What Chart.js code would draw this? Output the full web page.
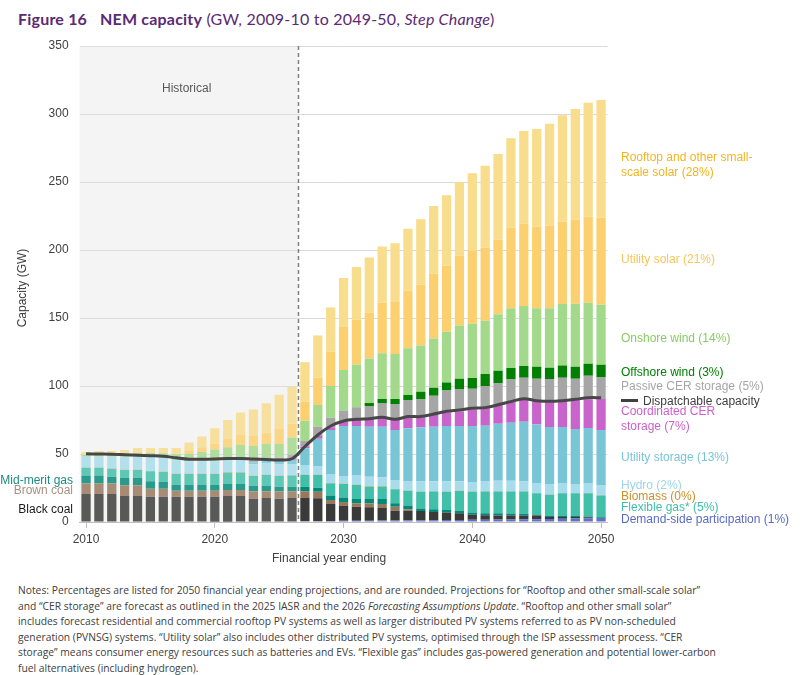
<!DOCTYPE html>
<html><head><meta charset="utf-8">
<script src="https://cdn.jsdelivr.net/npm/chart.js@4.4.1/dist/chart.umd.min.js"></script>
<style>
body{margin:0;background:#fff;width:802px;height:675px;overflow:hidden;position:relative;font-family:'Liberation Sans',Arial,sans-serif;}
#wrap{position:absolute;left:0;top:0;width:802px;height:580px;}
canvas{display:block;}
.t{position:absolute;white-space:nowrap;font-size:12px;line-height:14px;transform:translateY(-50%);}
.r{text-align:right;}
#title{position:absolute;left:18px;top:9px;font-family:'Lato',sans-serif;font-size:16px;letter-spacing:0.2px;color:#5b2a73;white-space:nowrap;}
#title b{font-weight:700;}
#notes{position:absolute;left:18px;top:583px;font-family:'Open Sans',sans-serif;font-size:10.3px;line-height:15.6px;color:#404040;white-space:nowrap;}
#ytitle{position:absolute;left:-28px;top:281px;width:100px;height:14px;line-height:14px;font-size:12px;color:#404040;text-align:center;white-space:nowrap;transform:rotate(-90deg);}
</style></head>
<body>
<div id="title"><b>Figure 16</b>&nbsp;&nbsp;&nbsp;<b>NEM capacity</b> (GW, 2009-10 to 2049-50, <i>Step Change</i>)</div>
<div id="wrap"><canvas id="c" width="802" height="580"></canvas></div>

<div class="t" style="left:162px;top:88px;color:#595959;">Historical</div>
<div id="ytitle">Capacity (GW)</div>
<div class="t" style="left:272px;top:558px;color:#404040;">Financial year ending</div>

<div class="t r" style="right:729px;top:480px;color:#1d8a80;">Mid-merit gas</div>
<div class="t r" style="right:729px;top:490px;color:#a89080;">Brown coal</div>
<div class="t r" style="right:729px;top:509px;color:#1a1a1a;">Black coal</div>

<div class="t" style="left:621px;top:157px;color:#f2b51f;">Rooftop and other small-</div>
<div class="t" style="left:621px;top:172px;color:#f2b51f;">scale solar (28%)</div>
<div class="t" style="left:621px;top:259px;color:#f9c55a;">Utility solar (21%)</div>
<div class="t" style="left:621px;top:338px;color:#86cc64;">Onshore wind (14%)</div>
<div class="t" style="left:621px;top:372px;color:#008000;">Offshore wind (3%)</div>
<div class="t" style="left:621px;top:386px;color:#a6a6a6;">Passive CER storage (5%)</div>
<div style="position:absolute;left:621px;top:399px;width:17px;height:3px;background:#404040;"></div>
<div class="t" style="left:643px;top:401px;color:#404040;">Dispatchable capacity</div>
<div class="t" style="left:621px;top:411px;color:#cc5fcc;">Coordinated CER</div>
<div class="t" style="left:621px;top:426px;color:#cc5fcc;">storage (7%)</div>
<div class="t" style="left:621px;top:457px;color:#78c5d6;">Utility storage (13%)</div>
<div class="t" style="left:621px;top:485px;color:#9bd5e6;">Hydro (2%)</div>
<div class="t" style="left:621px;top:496px;color:#c8902a;">Biomass (0%)</div>
<div class="t" style="left:621px;top:507px;color:#3fbfa8;">Flexible gas* (5%)</div>
<div class="t" style="left:621px;top:519px;color:#5a6bc4;">Demand-side participation (1%)</div>

<div id="notes">Notes: Percentages are listed for 2050 financial year ending projections, and are rounded. Projections for “Rooftop and other small-scale solar”<br>and “CER storage” are forecast as outlined in the 2025 IASR and the 2026 <i>Forecasting Assumptions Update</i>. “Rooftop and other small solar”<br>includes forecast residential and commercial rooftop PV systems as well as larger distributed PV systems referred to as PV non-scheduled<br>generation (PVNSG) systems. “Utility solar” also includes other distributed PV systems, optimised through the ISP assessment process. “CER<br>storage” means consumer energy resources such as batteries and EVs. “Flexible gas” includes gas-powered generation and potential lower-carbon<br>fuel alternatives (including hydrogen).</div>

<script>
const years = [2010,2011,2012,2013,2014,2015,2016,2017,2018,2019,2020,2021,2022,2023,2024,2025,2026,2027,2028,2029,2030,2031,2032,2033,2034,2035,2036,2037,2038,2039,2040,2041,2042,2043,2044,2045,2046,2047,2048,2049,2050];
const lastHistoricalYear = 2026;
const yTicks = [0,50,100,150,200,250,300,350];
const xTickYears = [2010,2020,2030,2040,2050];

const demandSide = [0,0,0,0,0,0,0,0,0,0,0.2,0.2,0.3,0.3,0.3,0.3,0.3,0.7,0.8,0.8,0.9,1.0,1.0,1.1,1.1,1.2,1.2,1.3,1.4,1.5,1.6,1.7,1.8,1.9,2.0,2.1,2.2,2.4,2.5,2.7,3.0];
const blackCoal = [20.6,20.6,20.6,19.1,19.1,18.6,18.6,18.6,18.6,18.6,18.4,18.9,18.8,16.8,17.3,16.8,17.3,16.9,16.6,12.4,10.9,10.3,9.8,9.2,7.2,7.1,6.9,6.1,5.5,4.9,3.8,3.3,3.0,2.8,2.6,2.6,1.5,1.3,1.2,0.8,0];
const brownCoal = [7.8,7.8,7.8,7.9,7.9,5.9,5.9,4.4,4.4,4.4,4.4,4.4,4.4,5.5,5.0,5.5,5.0,5.0,4.9,3.0,2.9,2.4,2.9,2.9,3.0,1.0,0,0,0,0,0,0,0,0,0,0,0,0,0,0,0];
const midMeritGas = [5.7,5.7,4.9,5.4,5.4,5.4,4.9,4.2,4.2,4.2,4.2,4.4,4.4,3.9,3.9,3.4,3.4,3.4,2.9,3.2,3.4,3.2,3.2,3.7,2.4,2.9,1.9,1.9,1.9,1.9,1.5,1.5,1.6,1.6,1.2,0.8,0.8,0.7,0.7,0.6,0.5];
const flexibleGas = [5.8,5.8,5.9,5.8,5.8,7.4,7.4,8.1,8.1,8.1,8.1,8.4,8.4,7.3,8.1,7.8,8.2,8.6,9.4,9.0,9.9,10.3,9.1,9.1,10.3,10.8,12.3,13.2,13.5,14.5,15.4,16.0,16.1,16.2,16.7,15.6,15.6,16.7,16.7,17.0,15.9];
const biomass = [0.2,0.2,0.2,0.2,0.2,0.2,0.2,0.2,0.2,0.2,0.2,0.2,0.2,0.2,0.2,0.2,0.2,0.2,0.2,0.2,0.2,0.2,0.2,0.2,0.2,0.2,0.2,0.2,0.2,0.2,0.2,0.2,0.2,0.2,0.2,0.2,0.2,0.2,0.2,0.2,0.2];
const hydro = [7.9,7.9,8.5,9.5,9.5,10.2,10.2,10.1,9.2,9.2,9.2,9.2,9.2,8.5,8.5,8.3,8.2,7.2,6.4,6.7,5.6,7.2,7.1,6.6,6.7,7.0,7.2,7.2,7.2,6.9,6.9,7.4,7.7,7.7,7.0,7.4,7.6,7.4,6.6,7.4,7.6];
const utilityStorage = [0,0,0,0,0,0,0,0,0,0,0,0.2,0.5,1.5,2.0,2.5,3.0,12.3,20.1,32.3,36.8,36.0,36.8,37.3,36.7,38.7,39.9,40.2,40.9,40.7,41.2,40.7,41.9,42.6,44.1,42.9,42.0,41.2,40.5,40.4,40.4];
const coordinatedCER = [0,0,0,0,0,0,0,0,0,0,0,0,0,0,0.1,0.2,0.5,1.2,1.9,2.0,3.7,5.4,5.9,7.3,7.9,8.5,7.4,8.6,9.8,10.5,12.2,12.8,13.7,15.5,17.2,17.6,18.6,19.3,21.3,21.1,22.8];
const passiveCER = [0,0,0,0,0,0,0,0,0,0,0,0.5,1.0,1.5,2.0,2.5,3.5,4.5,6.9,7.1,7.6,8.3,9.3,10.1,11.3,12.3,13.4,14.2,16.2,16.4,15.2,16.4,16.2,16.2,15.1,16.2,16.6,16.9,15.7,17.4,16.2];
const offshoreWind = [0,0,0,0,0,0,0,0,0,0,0,0,0,0,0,0,0,0,0,0,0,0,2.2,2.9,3.6,3.7,5.4,5.9,5.9,7.9,7.9,8.8,9.1,8.5,8.6,8.8,8.4,8.9,8.8,8.8,9.1];
const onshoreWind = [1.5,1.8,2.0,2.3,2.8,3.0,3.4,4.3,5.3,6.8,8.7,8.5,9.4,10.4,9.9,9.8,12.6,14.5,15.9,23.3,29.9,31.6,32.8,33.6,33.1,34.3,33.9,36.2,37.4,39.0,39.9,39.2,41.4,43.9,44.1,42.9,43.6,45.3,46.3,44.9,44.1];
const utilitySolar = [0,0,0,0,0,0,0,0.3,2.5,3.4,4.4,6.1,7.4,7.3,8.4,11.1,10.3,14.0,20.1,25.2,31.6,32.9,33.7,37.3,38.3,42.4,44.8,47.6,48.6,51.4,53.7,53.7,54.9,59.3,60.6,60.0,60.8,60.5,61.8,63.2,64.0];
const rooftopSolar = [2.0,2.4,2.3,2.7,3.7,3.7,3.8,4.2,6.0,8.0,11.2,14.0,16.6,19.6,21.7,25.2,27.0,28.9,31.1,32.6,36.0,38.7,40.4,41.2,43.2,45.6,48.1,49.8,51.7,54.2,56.9,60.3,63.0,65.7,68.1,71.9,75.0,78.2,81.4,83.8,86.5];
const dispatchable = [50.1,50.0,49.9,49.5,49.1,48.8,48.4,47.2,46.2,46.2,46.4,46.7,46.7,46.3,46.0,45.6,46.5,55.5,64.0,70.6,74.3,75.5,76.0,77.0,75.5,77.5,77.5,79.4,81.4,82.4,83.6,84.1,86.2,88.5,90.7,89.2,88.7,89.2,90.2,91.4,91.4];

const seriesNames = ['Demand-side participation','Black coal','Brown coal','Mid-merit gas','Flexible gas*','Biomass','Hydro','Utility storage','Coordinated CER storage','Passive CER storage','Offshore wind','Onshore wind','Utility solar','Rooftop and other small-scale solar'];
const seriesData = [demandSide,blackCoal,brownCoal,midMeritGas,flexibleGas,biomass,hydro,utilityStorage,coordinatedCER,passiveCER,offshoreWind,onshoreWind,utilitySolar,rooftopSolar];
const seriesColors = ['#6470c8','#3a3a38','#98785c','#008878','#40c0a8','#c8902a','#a6dcec','#78c5d6','#c864cc','#a6a6a6','#008000','#a3d98a','#fdd06f','#f8dd8c'];

const datasets = seriesNames.map((n,i)=>({
  type:'bar', label:n, data:seriesData[i], backgroundColor:seriesColors[i],
  stack:'cap', order:1, barPercentage:0.72, categoryPercentage:1.0, borderWidth:0
}));
datasets.push({
  type:'line', label:'Dispatchable capacity', data:dispatchable, borderColor:'#474747',
  borderWidth:3, pointRadius:0, tension:0.35, fill:false, stack:'disp', order:0
});

function histEdge(chart){
  const x = chart.scales.x;
  const i = years.indexOf(lastHistoricalYear);
  return (x.getPixelForValue(i) + x.getPixelForValue(i+1))/2;
}
const histPlugin = {
  id:'hist',
  beforeDraw(chart){
    const a = chart.chartArea, ctx = chart.ctx, xe = histEdge(chart);
    ctx.save(); ctx.fillStyle='#f5f5f5';
    ctx.fillRect(a.left, a.top, xe-a.left, a.bottom-a.top);
    ctx.restore();
  },
  beforeDatasetDraw(chart,args){
    if(args.meta.type!=='line') return;
    const a = chart.chartArea, ctx = chart.ctx, xe = histEdge(chart);
    ctx.save();
    ctx.fillStyle='rgba(245,245,245,0.17)';
    ctx.fillRect(a.left, a.top, xe-a.left, a.bottom-a.top);
    ctx.strokeStyle='#7f7f7f'; ctx.lineWidth=1.5; ctx.setLineDash([4,3]);
    ctx.beginPath(); ctx.moveTo(xe, a.top); ctx.lineTo(xe, a.bottom); ctx.stroke();
    ctx.restore();
  }
};

new Chart(document.getElementById('c'), {
  data:{labels:years, datasets},
  options:{
    responsive:false, animation:false,
    layout:{padding:{top:46,right:194.5,bottom:34,left:0}},
    plugins:{legend:{display:false},tooltip:{enabled:false}},
    scales:{
      x:{
        stacked:true, offset:true,
        grid:{display:true, drawOnChartArea:false, drawTicks:true, tickLength:6, offset:false,
          color:(c)=> (c.tick && xTickYears.includes(years[c.index])) ? '#bfbfbf' : 'rgba(0,0,0,0)'},
        border:{display:true,color:'#bfbfbf',width:1},
        ticks:{autoSkip:false, maxRotation:0, minRotation:0, padding:4, color:'#404040',
          font:{family:'Liberation Sans',size:12},
          callback:(v,i)=> xTickYears.includes(years[i]) ? String(years[i]) : ''},
        afterFit(s){ s.height = 24; }
      },
      y:{
        stacked:true, min:0, max:350,
        afterBuildTicks(s){ s.ticks = yTicks.map(v=>({value:v})); },
        grid:{color:'#d9d9d9', lineWidth:1, drawTicks:false},
        border:{display:false},
        ticks:{padding:11, color:'#404040', font:{family:'Liberation Sans',size:12}},
        afterFit(s){ s.width = 79.6; }
      }
    }
  },
  plugins:[histPlugin]
});
</script>
</body></html>
